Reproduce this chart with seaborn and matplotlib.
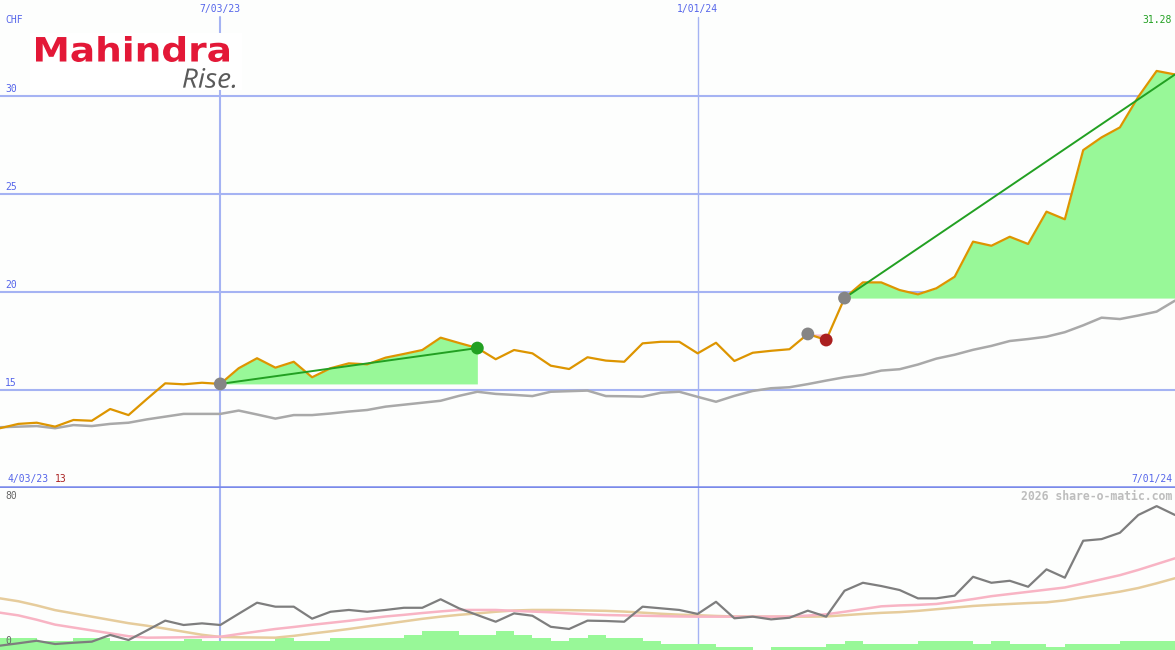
import matplotlib
matplotlib.use("Agg")
import matplotlib.pyplot as plt
import numpy as np
import pandas as pd
import seaborn as sns
from matplotlib.font_manager import FontProperties
from matplotlib.patches import PathPatch
from matplotlib.textpath import TextPath
from matplotlib.transforms import Affine2D

# weekly closes (CHF), week 0 = start of chart
price = [13.05, 13.27, 13.33, 13.13, 13.47, 13.43, 14.03, 13.72, 14.54, 15.34,
         15.29, 15.37, 15.31, 16.11, 16.62, 16.14, 16.44, 15.65, 16.11, 16.36,
         16.31, 16.65, 16.84, 17.04, 17.67, 17.40, 17.14, 16.57, 17.04, 16.87,
         16.24, 16.07, 16.67, 16.50, 16.44, 17.38, 17.46, 17.46, 16.87, 17.41,
         16.48, 16.90, 17.00, 17.08, 17.86, 17.55, 19.69, 20.49, 20.49, 20.10,
         19.88, 20.19, 20.78, 22.57, 22.36, 22.82, 22.45, 24.10, 23.71, 27.24,
         27.89, 28.40, 29.96, 31.28, 31.10]
avg_price = [13.10, 13.13, 13.16, 13.05, 13.21, 13.16, 13.27, 13.33, 13.50, 13.64,
             13.78, 13.78, 13.78, 13.95, 13.75, 13.54, 13.72, 13.72, 13.80, 13.90,
             13.98, 14.15, 14.25, 14.35, 14.45, 14.70, 14.91, 14.80, 14.75, 14.69,
             14.91, 14.94, 14.97, 14.69, 14.68, 14.66, 14.86, 14.91, 14.65, 14.40,
             14.70, 14.95, 15.09, 15.14, 15.30, 15.48, 15.65, 15.77, 15.99, 16.06,
             16.30, 16.60, 16.80, 17.05, 17.25, 17.50, 17.60, 17.72, 17.95, 18.30,
             18.69, 18.62, 18.80, 19.00, 19.56]

# lower panel indicator
osc = [0.2, 1.5, 2.9, 1.1, 1.8, 2.4, 6.1, 3.3, 8.6, 14.0,
       11.6, 12.5, 11.6, 17.8, 23.9, 21.7, 21.7, 15.1, 18.9, 19.9,
       18.9, 19.9, 21.1, 21.1, 25.8, 20.8, 17.1, 13.4, 18.0, 16.7,
       10.6, 9.4, 14.0, 13.8, 13.4, 21.7, 20.8, 19.9, 17.7, 24.4,
       15.3, 16.2, 14.7, 15.6, 19.5, 16.2, 30.5, 34.9, 33.1, 30.9,
       26.3, 26.3, 27.8, 38.2, 34.9, 36.0, 32.7, 42.3, 37.7, 58.1,
       59.0, 62.5, 72.3, 77.2, 72.3]
osc_fast = [18.4, 16.9, 14.5, 11.8, 10.2, 8.6, 7.0, 5.4, 4.6, 4.7,
            4.8, 5.0, 5.1, 6.6, 8.0, 9.4, 10.5, 11.7, 12.8, 13.9,
            15.1, 16.3, 17.2, 18.2, 19.1, 19.9, 19.9, 19.9, 19.4, 19.0,
            18.6, 18.0, 17.5, 17.1, 16.9, 16.7, 16.5, 16.3, 16.2, 16.2,
            16.2, 16.2, 16.2, 16.3, 16.8, 17.5, 18.9, 20.4, 21.9, 22.4,
            22.7, 23.2, 24.5, 25.9, 27.5, 28.7, 29.9, 31.1, 32.3, 34.5,
            36.8, 39.1, 42.0, 45.2, 48.4]
osc_slow = [26.3, 24.7, 22.4, 19.8, 18.0, 16.2, 14.4, 12.6, 11.2, 9.6,
            7.9, 6.2, 5.0, 4.8, 4.7, 4.6, 5.6, 6.9, 8.1, 9.4,
            10.8, 12.2, 13.6, 15.0, 16.2, 17.2, 18.0, 18.9, 19.6, 19.9,
            19.9, 19.8, 19.6, 19.4, 19.0, 18.4, 17.8, 17.3, 17.0, 16.6,
            16.3, 16.2, 16.2, 16.2, 16.2, 16.3, 17.0, 17.7, 18.3, 18.7,
            19.4, 20.3, 21.2, 22.1, 22.7, 23.2, 23.7, 24.1, 25.2, 26.9,
            28.4, 30.0, 32.0, 34.6, 37.4]
volume = [12, 12, 9, 9, 12, 12, 9, 9, 9, 9, 11, 9, 9, 9, 9, 12, 9, 9, 12, 12,
          12, 12, 15, 19, 19, 15, 15, 19, 15, 12, 9, 12, 15, 12, 12, 9, 6, 6, 6, 3,
          3, 0, 3, 3, 3, 6, 9, 6, 6, 6, 9, 9, 9, 6, 9, 6, 6, 3, 6, 6,
          6, 9, 9, 9]

date_ticks = [12, 38]
date_labels = ["7/03/23", "1/01/24"]
price_grid = [15, 20, 25, 30]
seg_start = [12, 44, 46]
seg_end = [26, 45, 64]
seg_open = [False, False, True]

weeks = np.arange(len(price))
df = pd.DataFrame({"week": weeks, "price": price, "avg": avg_price,
                   "osc": osc, "fast": osc_fast, "slow": osc_slow})

sns.set_theme(style="white")
plt.rcParams["font.family"] = ["DejaVu Sans Mono", "DejaVu Sans"]

BG = "#fdfefd"
BLUE = "#5565ea"
GRID = "#a5b3f3"
fig = plt.figure(figsize=(11.75, 6.5), dpi=100, facecolor=BG)
ax = fig.add_axes([0, 163 / 650, 1, 487 / 650], facecolor=BG)
ax_vol = fig.add_axes([0, 0, 1, 162 / 650], facecolor=BG)
ax_low = fig.add_axes([0, 0, 1, 162 / 650])
ax_low.patch.set_visible(False)

for a in (ax, ax_vol, ax_low):
    a.set_xlim(0, 64)
    a.set_xticks([])
    a.set_yticks([])
    for s in a.spines.values():
        s.set_visible(False)
ax.set_ylim(10.05, 34.9)
ax_low.set_ylim(-2.2, 87.2)
ax_vol.set_ylim(0, 162)
ax.spines["bottom"].set_visible(True)
ax.spines["bottom"].set_color("#7a8aea")
ax.spines["bottom"].set_linewidth(1.8)

# grid
for v in price_grid:
    ax.axhline(v, color=GRID, lw=1.5, zorder=1)
    ax.annotate(str(v), xy=(0, v), xycoords=("axes fraction", "data"),
                xytext=(5, 2), textcoords="offset pixels", va="bottom",
                color=BLUE, fontsize=7)
for w, lab in zip(date_ticks, date_labels):
    lw = 1.5 if w == date_ticks[0] else 1.0
    ax.axvline(w, ymax=1 - 17 / 487, color=GRID, lw=lw, zorder=1)
    ax_vol.axvline(w, color=GRID, lw=lw, zorder=0)
    ax.annotate(lab, xy=(w, 1), xycoords=("data", "axes fraction"),
                xytext=(0, -9), textcoords="offset pixels", ha="center",
                va="center", color=BLUE, fontsize=7)

# gain / loss fills between start close and later closes
for s, e, op in zip(seg_start, seg_end, seg_open):
    xs = weeks[s:e + 1]
    ys = np.array(price[s:e + 1])
    base = price[s]
    fill = "#98f898" if price[e] >= base else "#f6b8c6"
    ax.fill_between(xs, ys, base, color=fill, lw=0, zorder=2)

sns.lineplot(data=df, x="week", y="avg", ax=ax, color="#a9a9a9", lw=1.8,
             zorder=3)
sns.lineplot(data=df, x="week", y="price", ax=ax, color="#dd9500", lw=1.6,
             zorder=4)

for s, e, op in zip(seg_start, seg_end, seg_open):
    gain = price[e] >= price[s]
    if gain:
        ax.plot([s, e], [price[s], price[e]], color="#22a022", lw=1.4,
                zorder=5)
    sns.scatterplot(x=[s], y=[price[s]], ax=ax, color="#858585", s=85,
                    edgecolor="none", zorder=6)
    if not op:
        sns.scatterplot(x=[e], y=[price[e]], ax=ax,
                        color="#22a022" if gain else "#aa1f1f", s=85,
                        edgecolor="none", zorder=6)
ax.set_xlabel("")
ax.set_ylabel("")

ax.annotate("CHF", xy=(0, 1), xycoords="axes fraction", xytext=(5, -20),
            textcoords="offset pixels", va="center", color=BLUE, fontsize=7)
ax.annotate(f"{price[-2]:.2f}", xy=(1, 1), xycoords="axes fraction",
            xytext=(-3, -20), textcoords="offset pixels", va="center",
            ha="right", color="#22a022", fontsize=7)
ax.annotate("4/03/23", xy=(0, 0), xycoords="axes fraction", xytext=(7, 8),
            textcoords="offset pixels", va="center", color=BLUE, fontsize=7)
ax.annotate("13", xy=(0, 0), xycoords="axes fraction", xytext=(55, 8),
            textcoords="offset pixels", va="center", color="#aa2222",
            fontsize=7)
ax.annotate("7/01/24", xy=(1, 0), xycoords="axes fraction", xytext=(-3, 8),
            textcoords="offset pixels", va="center", ha="right", color=BLUE,
            fontsize=7)

# lower panel
ax_vol.bar(weeks[:-1], volume, width=1, align="edge", color="#98f898",
           lw=0, zorder=1)
sns.lineplot(data=df, x="week", y="slow", ax=ax_low, color="#e6cc9c", lw=1.8)
sns.lineplot(data=df, x="week", y="fast", ax=ax_low, color="#f8b4c4", lw=1.8)
sns.lineplot(data=df, x="week", y="osc", ax=ax_low, color="#7e7e7e", lw=1.6)
ax_low.set_xlabel("")
ax_low.set_ylabel("")
ax_low.annotate("80", xy=(0, 1), xycoords="axes fraction", xytext=(5, -8),
                textcoords="offset pixels", va="center", color="#666666",
                fontsize=7)
ax_low.annotate("0", xy=(0, 0), xycoords="axes fraction", xytext=(5, 9),
                textcoords="offset pixels", va="center", color="#666666",
                fontsize=7)
ax_low.annotate("2026 share-o-matic.com", xy=(1, 1), xycoords="axes fraction",
                xytext=(-3, -8), textcoords="offset pixels", va="center",
                ha="right", color="#bdbdbd", fontsize=8.3, fontweight="bold")

# logo: white box with stretched word mark
ax_logo = fig.add_axes([30 / 1175, (650 - 90) / 650, 212 / 1175, 57 / 650],
                       facecolor="white")
ax_logo.set_xticks([])
ax_logo.set_yticks([])
for s in ax_logo.spines.values():
    s.set_visible(False)


def word_mark(text, box, prop, color):
    # box = (left, top, right, bottom) in output pixels from the top-left
    tp = TextPath((0, 0), text, size=50, prop=prop)
    ext = tp.get_extents()
    left, top, right, bottom = box
    sx = (right - left) / ext.width
    sy = (bottom - top) / ext.height
    tr = (Affine2D().translate(-ext.x0, -ext.y0).scale(sx, sy)
          .translate(left, 650 - bottom))
    patch = PathPatch(tr.transform_path(tp), color=color, lw=0,
                      transform=None)
    fig.add_artist(patch)


word_mark("Mahindra", (36, 36, 229, 62),
          FontProperties(family="DejaVu Sans", weight="bold"), "#e31837")
word_mark("Rise.", (183, 68, 235, 88),
          FontProperties(family="Open Sans", style="italic"), "#5a5a5a")

fig.savefig("out.png", dpi=100, facecolor=BG)
